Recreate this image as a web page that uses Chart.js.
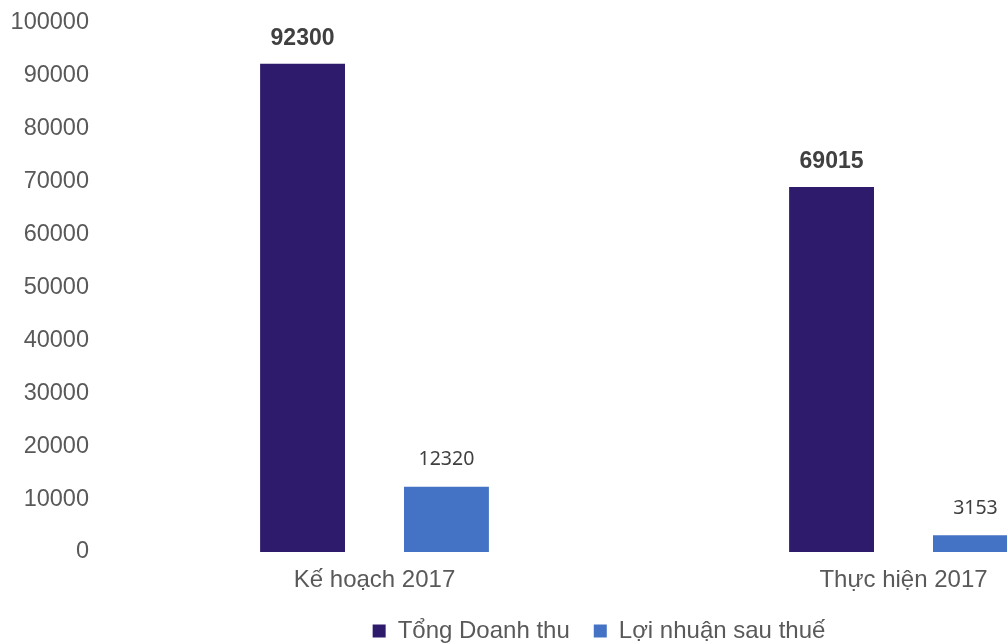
<!DOCTYPE html>
<html>
<head>
<meta charset="utf-8">
<script src="https://cdn.jsdelivr.net/npm/chart.js@4.4.0/dist/chart.umd.min.js"></script>
<style>
  html, body { margin: 0; padding: 0; background: #fff; overflow: hidden; }
  #wrap { width: 1200px; height: 643px; }
</style>
</head>
<body>
<div id="wrap"><canvas id="chart"></canvas></div>
<script>
const categories = ['Kế hoạch 2017', 'Thực hiện 2017'];
const seriesNames = ['Tổng Doanh thu', 'Lợi nhuận sau thuế'];
const revenue = [92300, 69015];
const profit = [12320, 3153];
const yMax = 100000;
const yStep = 10000;

// values above the bars (first series bold)
const valueLabels = {
  id: 'valueLabels',
  afterDatasetsDraw(chart) {
    const ctx = chart.ctx;
    chart.data.datasets.forEach((ds, i) => {
      chart.getDatasetMeta(i).data.forEach((bar, j) => {
        ctx.save();
        ctx.font = i === 0 ? 'bold 23px "Liberation Sans", Arial, sans-serif' : '19.5px "Noto Sans", sans-serif';
        ctx.fillStyle = '#404040';
        ctx.textAlign = 'center';
        ctx.textBaseline = 'middle';
        ctx.fillText(ds.data[j], bar.x, bar.y - (i === 0 ? 25 : 27));
        ctx.restore();
      });
    });
  }
};

// nudge the legend a bit to the right
const legendShift = {
  id: 'legendShift',
  afterLayout(chart) {
    if (chart.legend) {
      chart.legend.left += 15;
      chart.legend.right += 15;
    }
  }
};

const family = '"Liberation Sans", Arial, sans-serif';

new Chart(document.getElementById('chart'), {
  type: 'bar',
  data: {
    labels: categories,
    datasets: [
      { label: seriesNames[0], data: revenue, backgroundColor: '#2E1B6C' },
      { label: seriesNames[1], data: profit, backgroundColor: '#4472C4' }
    ]
  },
  options: {
    responsive: true,
    maintainAspectRatio: false,
    animation: false,
    categoryPercentage: 0.544,
    barPercentage: 0.59,
    layout: { padding: { top: 23, right: 32, left: 0, bottom: -10 } },
    scales: {
      x: {
        grid: { display: false, drawTicks: false },
        border: { display: false },
        ticks: { color: '#595959', font: { family, size: 24 }, padding: 14 },
        afterFit(s) { s.height = 43; }
      },
      y: {
        min: 0,
        max: yMax,
        grid: { display: false, drawTicks: false },
        border: { display: false },
        ticks: {
          stepSize: yStep,
          color: '#595959',
          font: { family, size: 23.5 },
          padding: 21,
          callback: v => String(v)
        },
        afterFit(s) { s.width = 110; s.paddingTop = 0; s.paddingBottom = 0; }
      }
    },
    plugins: {
      tooltip: { enabled: false },
      legend: {
        position: 'bottom',
        labels: {
          color: '#595959',
          font: { family, size: 24 },
          boxWidth: 13,
          boxHeight: 13,
          padding: 24
        }
      }
    }
  },
  plugins: [valueLabels, legendShift]
});
</script>
</body>
</html>
